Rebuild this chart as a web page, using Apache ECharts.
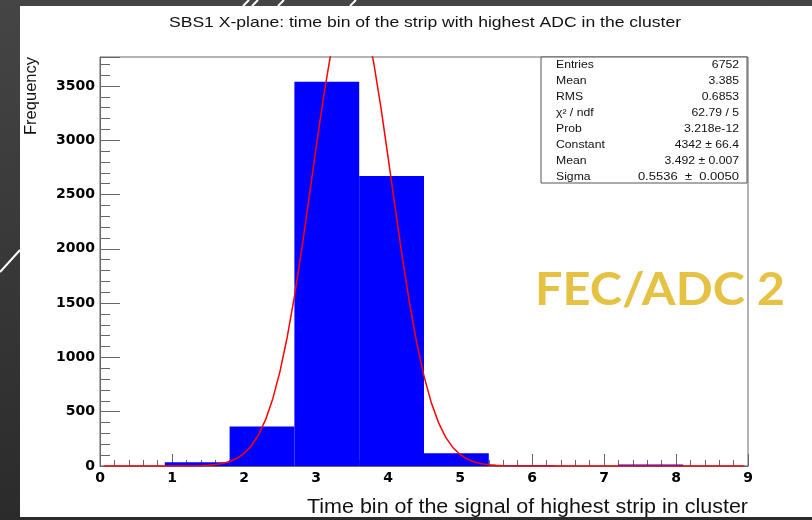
<!DOCTYPE html>
<html>
<head>
<meta charset="utf-8">
<script src="https://cdn.jsdelivr.net/npm/echarts@6/dist/echarts.min.js"></script>
<style>
  html, body { margin: 0; padding: 0; }
  .slide {
    position: relative;
    width: 812px;
    height: 520px;
    background: linear-gradient(180deg, #454545 0%, #383838 50%, #2b2b2b 100%);
    overflow: hidden;
  }
  .panel {
    position: absolute;
    left: 20px;
    top: 6px;
    width: 792px;
    height: 511px;
    background: #fff;
  }
  #chart {
    position: absolute;
    left: 0;
    top: 0;
    width: 812px;
    height: 520px;
  }
</style>
</head>
<body>
<div class="slide">
  <div class="panel"></div>
  <div id="chart"></div>
</div>
<script>
// histogram bins (time bin, width 0.9)
const binLow = [0, 0.9, 1.8, 2.7, 3.6, 4.5, 5.4, 6.3, 7.2, 8.1]
const binHigh = [0.9, 1.8, 2.7, 3.6, 4.5, 5.4, 6.3, 7.2, 8.1, 9]
const counts = [0, 34, 363, 3540, 2671, 117, 6, 0, 14, 0]

// gaussian fit curve
const fitX = [0.05, 1.0, 1.4, 1.5, 1.6, 1.7, 1.8, 1.9, 2.0, 2.1, 2.2, 2.3, 2.4, 2.5, 2.6, 2.7, 2.8, 2.9, 3.0,
  3.1, 3.2, 3.3, 3.4, 3.5, 3.6, 3.7, 3.8, 3.9, 4.0, 4.1, 4.2, 4.3, 4.4, 4.5, 4.6, 4.7, 4.8, 4.9, 5.0,
  5.1, 5.2, 5.3, 5.4, 5.5, 5.6, 6.0, 8.95]
const fitY = [0, 0, 3, 7, 13, 23, 41, 70, 115, 184, 285, 427, 620, 872, 1186, 1561, 1988, 2451, 2926,
  3379, 3778, 4088, 4282, 4342, 4260, 4046, 3719, 3309, 2850, 2375, 1917, 1497, 1131, 828, 586, 402, 266, 171, 106,
  64, 37, 21, 11, 6, 3, 0, 0]

// stats box rows
const statLabels = ['Entries', 'Mean', 'RMS', 'χ² / ndf', 'Prob', 'Constant', 'Mean', 'Sigma']
const statValues = ['6752', '3.385', '0.6853', '62.79 / 5', '3.218e-12', '4342 ± 66.4', '3.492 ± 0.007', '0.5536  ±  0.0050']

const yMax = 3767
const axisColor = '#666'
const tickFont = {
  color: '#000',
  fontFamily: 'DejaVu Sans',
  fontWeight: 'bold',
  fontSize: 14
}

// the slide picture is a bit wider than tall, so stretch texts to its widths
const measureCtx = document.createElement('canvas').getContext('2d')
function stretch (text, size, weight, family, width) {
  measureCtx.font = weight + ' ' + size + 'px ' + family
  return width / measureCtx.measureText(text).width
}

const sans = 'Liberation Sans'
const titleText = 'SBS1 X-plane: time bin of the strip with highest ADC in the cluster'
const xTitleText = 'Time bin of the signal of highest strip in cluster'
const fecText = 'FEC/ADC 2'

const statsGraphics = []
statLabels.forEach((name, i) => {
  const y = 65 + i * 16
  statsGraphics.push({
    type: 'text',
    x: 556,
    y: y,
    scaleX: 1.22,
    z: 11,
    style: { text: name, fontSize: 10, fontFamily: sans, fill: '#111', align: 'left', verticalAlign: 'middle' }
  })
  statsGraphics.push({
    type: 'text',
    x: 739,
    y: y,
    scaleX: i === 7 ? 1.3 : 1.22,
    z: 11,
    style: { text: statValues[i], fontSize: 10, fontFamily: sans, fill: '#111', align: 'right', verticalAlign: 'middle' }
  })
})

const slashes = [243, 252, 278, 350].map(x => ({
  type: 'line',
  shape: { x1: x + 6, y1: 0, x2: x, y2: 6 },
  style: { stroke: '#fff', lineWidth: 2 }
}))

const option = {
  animation: false,
  grid: {
    left: 100,
    top: 57,
    right: 64,
    bottom: 54,
    show: true,
    borderColor: axisColor,
    borderWidth: 1
  },
  xAxis: {
    type: 'value',
    min: 0,
    max: 9,
    interval: 1,
    axisLine: { lineStyle: { color: axisColor } },
    axisTick: { inside: true, length: 12, lineStyle: { color: axisColor } },
    minorTick: { show: true, splitNumber: 5, length: 6, lineStyle: { color: axisColor } },
    splitLine: { show: false },
    axisLabel: Object.assign({ margin: 5 }, tickFont)
  },
  yAxis: [
    {
      type: 'value',
      min: 0,
      max: yMax,
      interval: 500,
      axisLine: { show: true, lineStyle: { color: axisColor } },
      axisTick: { show: true, inside: true, length: 20, lineStyle: { color: axisColor } },
      splitLine: { show: false },
      axisLabel: Object.assign({
        margin: 5,
        formatter: v => (v % 500 === 0 ? String(v) : '')
      }, tickFont)
    },
    {
      type: 'value',
      min: 0,
      max: yMax,
      interval: 100,
      position: 'left',
      axisLine: { show: false },
      axisTick: { show: true, inside: true, length: 10, lineStyle: { color: axisColor } },
      splitLine: { show: false },
      axisLabel: { show: false }
    }
  ],
  graphic: [
    {
      type: 'line',
      shape: { x1: 0, y1: 272, x2: 20, y2: 250 },
      style: { stroke: '#fff', lineWidth: 2 }
    },
    ...slashes,
    {
      type: 'text',
      x: 425,
      y: 23,
      scaleX: stretch(titleText, 14.5, 'normal', sans, 512),
      style: { text: titleText, fontSize: 14.5, fontFamily: sans, fill: '#111', align: 'center', verticalAlign: 'middle' }
    },
    {
      type: 'text',
      x: 748,
      y: 508,
      scaleX: stretch(xTitleText, 19.5, 'normal', sans, 441),
      style: { text: xTitleText, fontSize: 19.5, fontFamily: sans, fill: '#111', align: 'right', verticalAlign: 'middle' }
    },
    {
      type: 'text',
      x: 31,
      y: 57,
      rotation: Math.PI / 2,
      style: { text: 'Frequency', fontSize: 16.5, fontFamily: sans, fill: '#111', align: 'right', verticalAlign: 'middle' }
    },
    {
      type: 'rect',
      shape: { x: 541, y: 57, width: 206, height: 126 },
      style: { fill: '#fff', stroke: '#555', lineWidth: 1 },
      z: 10
    },
    ...statsGraphics,
    {
      type: 'text',
      x: 535,
      y: 290,
      scaleX: stretch(fecText, 46, 'bold', 'Lato', 250),
      style: { text: fecText, fontSize: 46, fontWeight: 'bold', fontFamily: 'Lato', fill: '#e6c244', align: 'left', verticalAlign: 'middle' },
      z: 11
    }
  ],
  series: [
    {
      name: 'hist',
      type: 'custom',
      xAxisIndex: 0,
      yAxisIndex: 0,
      renderItem: (params, api) => {
        const start = api.coord([api.value(0), api.value(2)])
        const end = api.coord([api.value(1), 0])
        return {
          type: 'rect',
          shape: { x: start[0], y: start[1], width: end[0] - start[0], height: end[1] - start[1] },
          style: { fill: '#0000ff' }
        }
      },
      encode: { x: [0, 1], y: 2 },
      data: binLow.map((lo, i) => [lo, binHigh[i], counts[i]])
    },
    {
      name: 'fit',
      type: 'line',
      xAxisIndex: 0,
      yAxisIndex: 0,
      data: fitX.map((x, i) => [x, fitY[i]]),
      showSymbol: false,
      symbol: 'none',
      clip: true,
      lineStyle: { color: '#ff0000', width: 1.5 },
      z: 5
    }
  ]
}

const myChart = echarts.init(document.getElementById('chart'))
myChart.setOption(option)
</script>
</body>
</html>
